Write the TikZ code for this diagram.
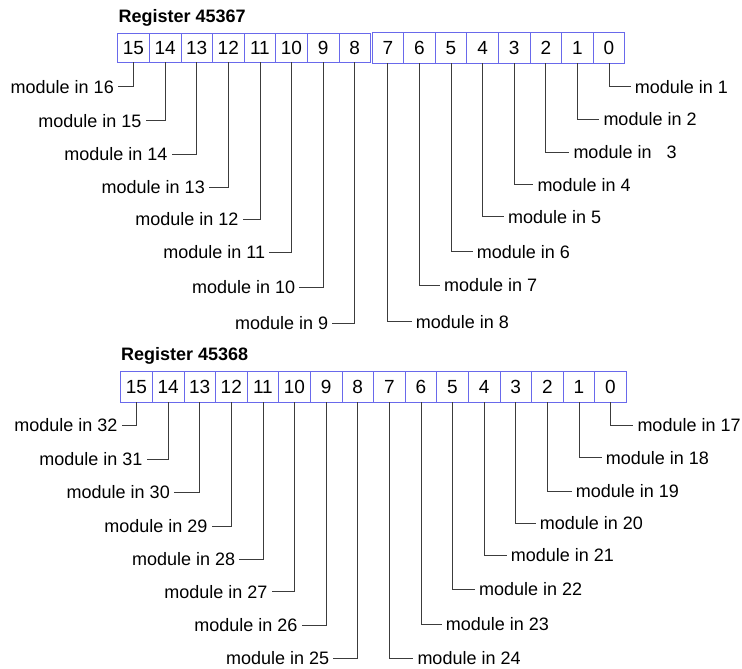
\documentclass[tikz,border=0pt]{standalone}
\usepackage{fontspec}
\setmainfont{Liberation Sans}
\usetikzlibrary{positioning}
\definecolor{boxblue}{RGB}{105,105,235}
\definecolor{wiregray}{RGB}{60,60,60}

\begin{document}
\begin{tikzpicture}[
  x=1pt, y=-1pt,
  bitbox/.style={draw=boxblue, line width=0.8pt, minimum width=31.6pt, minimum height=29pt, inner sep=0pt, outer sep=0pt, font=\fontsize{19}{22}\selectfont},
  tallbox/.style={bitbox, minimum height=31.3pt},
  title/.style={anchor=base west, inner sep=0pt, font=\fontsize{18}{21}\selectfont\bfseries},
  lbl/.style={inner xsep=4pt, inner ysep=1pt, font=\fontsize{18}{21}\selectfont},
  wire/.style={draw=wiregray, line width=0.8pt}
]
\useasboundingbox (0,0) rectangle (742,669);

\node[title] (title1) at (118.5,22.8) {Register 45367};
\node[bitbox] (r1b15) at (133.5,47.8) {15};
\foreach \b [remember=\b as \p (initially 15)] in {14,13,...,8}
  \node[bitbox, right=0pt of r1b\p] (r1b\b) {\b};
\node[tallbox, right=1.5pt of r1b8] (r1b7) {7};
\foreach \b [remember=\b as \p (initially 7)] in {6,5,...,0}
  \node[tallbox, right=0pt of r1b\p] (r1b\b) {\b};

\foreach \b/\y/\x/\t in {15/86.7/118/16, 14/120.7/145.7/15, 13/154/171.7/14, 12/187/209/13, 11/219.3/242.7/12, 10/252.3/269.3/11, 9/287.3/299.3/10, 8/323.3/332.3/9}{
  \node[lbl, anchor=east] (r1m\b) at (\x,\y) {module in \t};
  \draw[wire] (r1b\b.south) |- (r1m\b.east);
}
\foreach \b/\y/\x/\t in {0/86.7/630.7/1, 1/119.3/599.3/2, 2/152.3/569.3/{\ \ 3}, 3/184.7/533.3/4, 4/216.7/504/5, 5/251.7/472.7/6, 6/285/440/7, 7/321.7/411.7/8}{
  \node[lbl, anchor=west] (r1m\b) at (\x,\y) {module in \t};
  \draw[wire] (r1b\b.south) |- (r1m\b.west);
}

\node[title] (title2) at (121,360.5) {Register 45368};
\node[tallbox] (r2b15) at (136.5,386.7) {15};
\foreach \b [remember=\b as \p (initially 15)] in {14,13,...,0}
  \node[tallbox, right=0pt of r2b\p] (r2b\b) {\b};

\foreach \b/\y/\x/\t in {15/425/121.7/32, 14/459/146.7/31, 13/492.3/174/30, 12/526/211.7/29, 11/559/239.3/28, 10/591.7/271.7/27, 9/625/301.7/26, 8/658/333.3/25}{
  \node[lbl, anchor=east] (r2m\b) at (\x,\y) {module in \t};
  \draw[wire] (r2b\b.south) |- (r2m\b.east);
}
\foreach \b/\y/\x/\t in {0/425/633.3/17, 1/457.7/601.7/18, 2/491/571.7/19, 3/523.3/535.7/20, 4/555/506.7/21, 5/589.3/475/22, 6/624/441.7/23, 7/658.5/413.3/24}{
  \node[lbl, anchor=west] (r2m\b) at (\x,\y) {module in \t};
  \draw[wire] (r2b\b.south) |- (r2m\b.west);
}

\end{tikzpicture}
\end{document}
